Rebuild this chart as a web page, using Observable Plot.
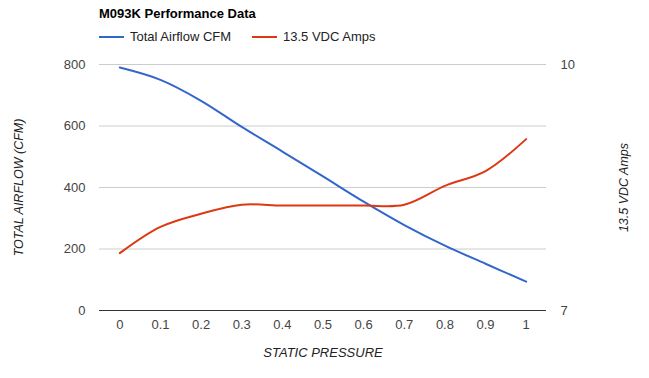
<!DOCTYPE html>
<html>
<head>
<meta charset="utf-8">
<script src="https://cdn.jsdelivr.net/npm/d3@7"></script>
<script src="https://cdn.jsdelivr.net/npm/@observablehq/plot@0.6"></script>
<style>
  body { margin: 0; background: #fff; font-family: Arial, "Liberation Sans", sans-serif; }
  #wrap { position: relative; width: 649px; height: 378px; }
  #head { height: 50px; position: relative; }
  #title { position: absolute; left: 99px; top: 6px; font-size: 13px; font-weight: bold; color: #000; }
  .leg { position: absolute; top: 29px; font-size: 13px; color: #222; display: flex; align-items: center; white-space: nowrap; }
  .leg i { display: inline-block; width: 25px; height: 2px; margin-right: 6px; }
  svg { display: block; }
</style>
</head>
<body>
<div id="wrap">
  <div id="head">
    <div id="title">M093K Performance Data</div>
    <div class="leg" style="left:99px"><i style="background:#3366cc"></i>Total Airflow CFM</div>
    <div class="leg" style="left:252px"><i style="background:#dc3912"></i>13.5 VDC Amps</div>
  </div>
  <div id="chart"></div>
</div>
<script>
const pressure = [0, 0.1, 0.2, 0.3, 0.4, 0.5, 0.6, 0.7, 0.8, 0.9, 1];
const airflowCFM = [790, 750, 682, 597, 517, 436, 354, 278, 211, 152, 94];
const ampsVDC = [7.70, 8.02, 8.18, 8.29, 8.28, 8.28, 8.28, 8.29, 8.52, 8.70, 9.09];
const xTickLabels = ["0", "0.1", "0.2", "0.3", "0.4", "0.5", "0.6", "0.7", "0.8", "0.9", "1"];
const cfmTicks = [0, 200, 400, 600, 800];
const ampTicks = [7, 10];
const cfmDomain = [0, 800];
const ampDomain = [7, 10];

const ampToCfm = d3.scaleLinear().domain(ampDomain).range(cfmDomain);

const cfmData = pressure.map((p, i) => ({p, v: airflowCFM[i]}));
const ampData = pressure.map((p, i) => ({p, v: ampToCfm(ampsVDC[i])}));

const chart = Plot.plot({
  width: 649,
  height: 328,
  marginTop: 14,
  marginBottom: 18 + 50,
  marginLeft: 99,
  marginRight: 103,
  style: {fontFamily: 'Arial, "Liberation Sans", sans-serif', fontSize: "13px", color: "#444", background: "#fff", overflow: "visible"},
  x: {domain: [-0.05, 1.05]},
  y: {domain: cfmDomain},
  marks: [
    Plot.gridY(cfmTicks.filter(d => d > 0), {stroke: "#cccccc", strokeOpacity: 1}),
    Plot.ruleY([0], {stroke: "#333"}),
    Plot.axisY(cfmTicks, {anchor: "left", tickSize: 0, tickPadding: 14, label: null, fill: "#444", fontSize: 13}),
    Plot.axisY(ampTicks.map(a => ampToCfm(a)), {anchor: "right", tickSize: 0, tickPadding: 14, label: null, fill: "#444", fontSize: 13,
      tickFormat: d => String(Math.round(ampToCfm.invert(d)))}),
    Plot.axisX(pressure, {anchor: "bottom", tickSize: 0, tickPadding: 9, label: null, fill: "#444", fontSize: 13,
      tickFormat: d => xTickLabels[pressure.indexOf(d)]}),
    Plot.line(cfmData, {x: "p", y: "v", stroke: "#3366cc", strokeWidth: 2, curve: "catmull-rom"}),
    Plot.line(ampData, {x: "p", y: "v", stroke: "#dc3912", strokeWidth: 2, curve: "catmull-rom"}),
    Plot.text(["TOTAL AIRFLOW (CFM)"], {frameAnchor: "left", textAnchor: "middle", dx: -81, rotate: -90, fontStyle: "italic", fill: "#222", fontSize: 12.5}),
    Plot.text(["13.5 VDC Amps"], {frameAnchor: "right", textAnchor: "middle", dx: 77, rotate: -90, fontStyle: "italic", fill: "#222", fontSize: 12.5}),
    Plot.text(["STATIC PRESSURE"], {frameAnchor: "bottom", dy: 46, fontStyle: "italic", fill: "#222", fontSize: 13})
  ]
});
document.getElementById("chart").appendChild(chart);
</script>
</body>
</html>
